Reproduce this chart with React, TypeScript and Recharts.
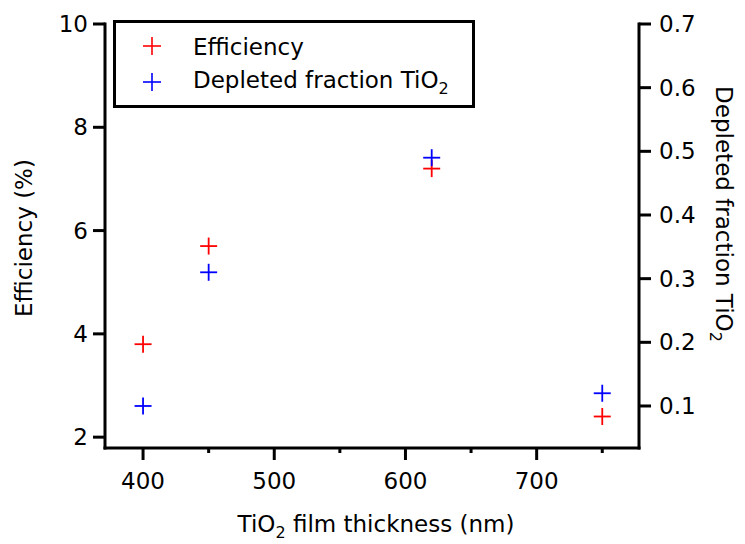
import { Label, Scatter, ScatterChart, XAxis, YAxis } from "recharts";

// film thickness (nm) and the two measured quantities
const thickness = [400, 450, 620, 750];
const efficiency = [3.8, 5.7, 7.2, 2.4];
const depleted = [0.1, 0.31, 0.49, 0.12];

const xTicks = [400, 450, 500, 550, 600, 650, 700, 750];
const effTicks = [2, 4, 6, 8, 10];
const depTicks = [0.1, 0.2, 0.3, 0.4, 0.5, 0.6, 0.7];

const RED = "#ff0000";
const BLUE = "#0000ff";
const FONT = "'DejaVu Sans', Verdana, sans-serif";
const FS = 23;

const effData = thickness.map((t, i) => ({ t, v: efficiency[i] }));
const depData = thickness.map((t, i) => ({ t, v: depleted[i] }));

const axisLine = { stroke: "#000", strokeWidth: 3, strokeLinecap: "square" as const };
const tickLine = { stroke: "#000", strokeWidth: 3 };
const tickText = { fill: "#000", fontSize: FS };

function Cross({ cx, cy, color, r = 8.5, w = 1.8 }: any) {
  if (cx == null || cy == null) return null;
  return (
    <g>
      <line x1={cx - r} x2={cx + r} y1={cy} y2={cy} stroke={color} strokeWidth={w} />
      <line x1={cx} x2={cx} y1={cy - r} y2={cy + r} stroke={color} strokeWidth={w} />
    </g>
  );
}

// bottom ticks: long ones with a label every 100 nm, short ones in between
function ThicknessTick({ x, y, payload }: any) {
  const major = payload.value % 100 === 0;
  return (
    <g>
      <line x1={x} x2={x} y1={y} y2={y + (major ? 12 : 5)} stroke="#000" strokeWidth={3} />
      {major && (
        <text x={x} y={y + 41} textAnchor="middle" fontSize={FS} fill="#000">
          {payload.value}
        </text>
      )}
    </g>
  );
}

function Legend() {
  return (
    <div style={{ position: "absolute", left: 113, top: 20 }}>
      <svg width={362} height={88} style={{ display: "block", fontFamily: FONT }}>
        <rect x={1.5} y={1.5} width={359} height={85} fill="#fff" stroke="#000" strokeWidth={3} />
        <Cross cx={39} cy={26} color={RED} r={9} w={1.6} />
        <Cross cx={39} cy={62} color={BLUE} r={9} w={1.6} />
        <text x={80} y={35} fontSize={FS}>Efficiency</text>
        <text x={80} y={68} fontSize={FS}>
          Depleted fraction TiO<tspan dy={6} fontSize={16}>2</tspan>
        </text>
      </svg>
    </div>
  );
}

export default function App() {
  return (
    <div style={{ position: "absolute", left: 0, top: 0, width: 745, height: 544, background: "#fff", fontFamily: FONT }}>
      <ScatterChart width={745} height={544} margin={{ top: 24, right: 46, bottom: 36, left: 45 }}>
        <XAxis
          type="number"
          dataKey="t"
          domain={[371, 778]}
          ticks={xTicks}
          allowDataOverflow
          height={60}
          axisLine={axisLine}
          tickLine={false}
          tickSize={0}
          tickMargin={0}
          tick={<ThicknessTick />}
        >
          <Label
            content={({ viewBox }: any) => (
              <text x={viewBox.x + viewBox.width / 2 + 4} y={532} textAnchor="middle" fontSize={FS} fill="#000">
                TiO<tspan dy={6} fontSize={16}>2</tspan>
                <tspan dy={-6}> film thickness (nm)</tspan>
              </text>
            )}
          />
        </XAxis>
        <YAxis
          yAxisId="eff"
          type="number"
          dataKey="v"
          orientation="left"
          domain={[1.79, 10]}
          ticks={effTicks}
          allowDataOverflow
          width={60}
          axisLine={axisLine}
          tickLine={tickLine}
          tickSize={12}
          tickMargin={5}
          tick={tickText}
        >
          <Label
            content={() => (
              <text x={32} y={238} transform="rotate(-90 32 238)" textAnchor="middle" fontSize={FS} fill="#000">
                Efficiency (%)
              </text>
            )}
          />
        </YAxis>
        <YAxis
          yAxisId="dep"
          type="number"
          dataKey="v"
          orientation="right"
          domain={[0.034, 0.7]}
          ticks={depTicks}
          allowDataOverflow
          width={60}
          axisLine={axisLine}
          tickLine={tickLine}
          tickSize={12}
          tickMargin={8}
          tick={tickText}
        >
          <Label
            content={() => (
              <text x={716} y={214} transform="rotate(90 716 214)" textAnchor="middle" fontSize={FS} fill="#000">
                Depleted fraction TiO<tspan dy={6} fontSize={16}>2</tspan>
              </text>
            )}
          />
        </YAxis>
        <Scatter
          name="Efficiency"
          yAxisId="eff"
          data={effData}
          isAnimationActive={false}
          shape={(p: any) => <Cross cx={p.cx} cy={p.cy} color={RED} />}
        />
        <Scatter
          name="Depleted fraction TiO2"
          yAxisId="dep"
          data={depData}
          isAnimationActive={false}
          shape={(p: any) => <Cross cx={p.cx} cy={p.cy} color={BLUE} />}
        />
      </ScatterChart>
      <Legend />
    </div>
  );
}
